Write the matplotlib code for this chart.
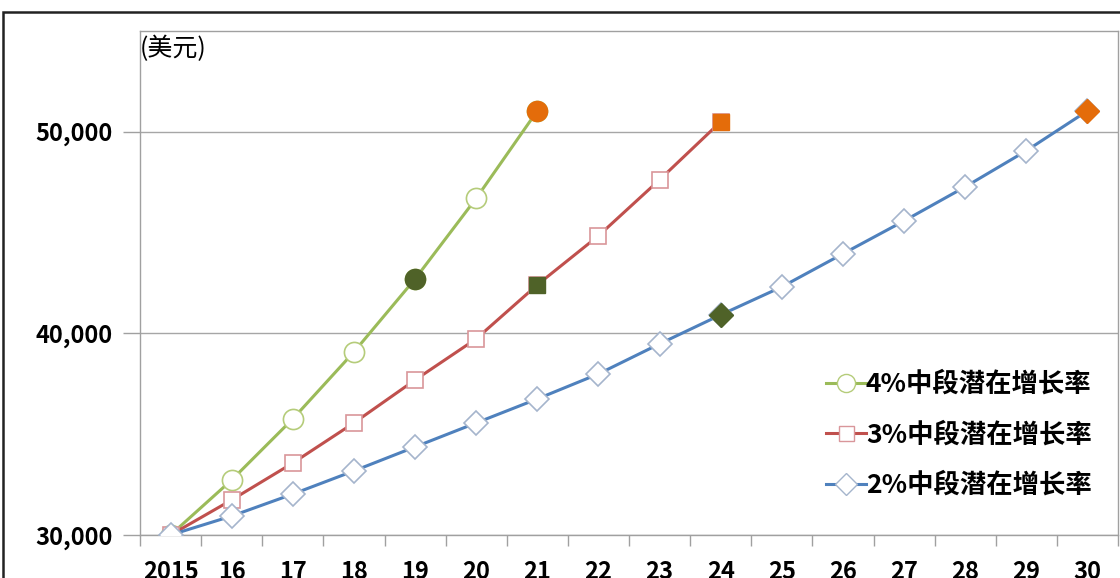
import numpy as np
import matplotlib
matplotlib.use("Agg")
import matplotlib.pyplot as plt
from matplotlib.lines import Line2D
from matplotlib.patches import Rectangle

plt.rcParams['font.family'] = ['Noto Sans CJK SC', 'DejaVu Sans']

# categories (years)
years = ['2015', '16', '17', '18', '19', '20', '21', '22', '23',
         '24', '25', '26', '27', '28', '29', '30']

# series values (US$)
g4 = [30000, 32730, 35760, 39080, 42700, 46700, 51040]
g3 = [30000, 31740, 33570, 35560, 37690, 39730, 42410, 44840, 47620, 50500]
g2 = [30000, 30940, 32030, 33180, 34370, 35560, 36750, 37990, 39480,
      40920, 42310, 43950, 45580, 47270, 49060, 51040]

labels = ['4%中段潜在增长率', '3%中段潜在增长率', '2%中段潜在增长率']

# which points get the dark / orange filled marker
dark_idx = [4, 6, 9]
orange_idx = [6, 9, 15]

line_colors = ['#9BBB59', '#C0504D', '#4F81BD']
edge_colors = ['#B5CC7A', '#D9969A', '#A5B5CC']
markers = ['o', 's', 'D']
msizes = [14.5, 12, 12]
dark = '#4F6228'
orange = '#E46C0A'

fig = plt.figure(figsize=(11.2, 5.78), dpi=100)
ax = fig.add_axes([140/1120, 1-535/578, (1118-140)/1120, (535-31)/578])

series = [g4, g3, g2]
for s, lc, ec, m, ms, di, oi in zip(series, line_colors, edge_colors,
                                    markers, msizes, dark_idx, orange_idx):
    x = np.arange(len(s))
    ax.plot(x, s, color=lc, lw=2.2, marker=m, ms=ms, mfc='white',
            mec=ec, mew=1.2, zorder=3)
    ax.plot(x[di], s[di], marker=m, ms=ms, color=dark, mec=dark, zorder=4)
    ax.plot(x[oi], s[oi], marker=m, ms=ms, color=orange, mec=orange, zorder=4)

ax.set_xlim(-0.5, len(years) - 0.5)
ax.set_ylim(30000, 55000)

ax.set_xticks(np.arange(len(years)))
ax.set_xticklabels(years, fontsize=17, fontweight='bold')
ax.set_xticks(np.arange(len(years) + 1) - 0.5, minor=True)
ax.tick_params(axis='x', which='major', length=0, pad=18)
ax.tick_params(axis='x', which='minor', length=8, color='#A0A0A0', width=1)

ax.set_yticks([30000, 40000, 50000])
ax.set_yticklabels(['30,000', '40,000', '50,000'], fontsize=17,
                   fontweight='bold')
ax.tick_params(axis='y', length=12, color='#A0A0A0', width=1, pad=8)
ax.grid(axis='y', color='#A6A6A6', lw=1)
ax.set_axisbelow(True)

for sp in ax.spines.values():
    sp.set_color('#A0A0A0')
    sp.set_linewidth(1)

ax.text(0.0, 0.99, '(美元)', transform=ax.transAxes, fontsize=18,
        fontweight='medium', va='top', ha='left')

handles = [Line2D([], [], color=lc, lw=2.2, marker=m, ms=ms * 0.9,
                  mfc='white', mec=ec)
           for lc, ec, m, ms in zip(line_colors, edge_colors, markers, msizes)]
leg = ax.legend(handles, labels, loc='lower right',
                bbox_to_anchor=(0.992, 0.035), frameon=False,
                prop={'size': 19, 'weight': 'bold'}, handlelength=1.5,
                handletextpad=0.0, labelspacing=0.89, borderpad=0.2)

# outer chart frame
fig.patches.append(Rectangle((3/1120, -0.1), 1.2, 1 - 12/578 + 0.1,
                             transform=fig.transFigure, fill=False,
                             ec='#222222', lw=1.8))

fig.savefig('out.png', dpi=100)
